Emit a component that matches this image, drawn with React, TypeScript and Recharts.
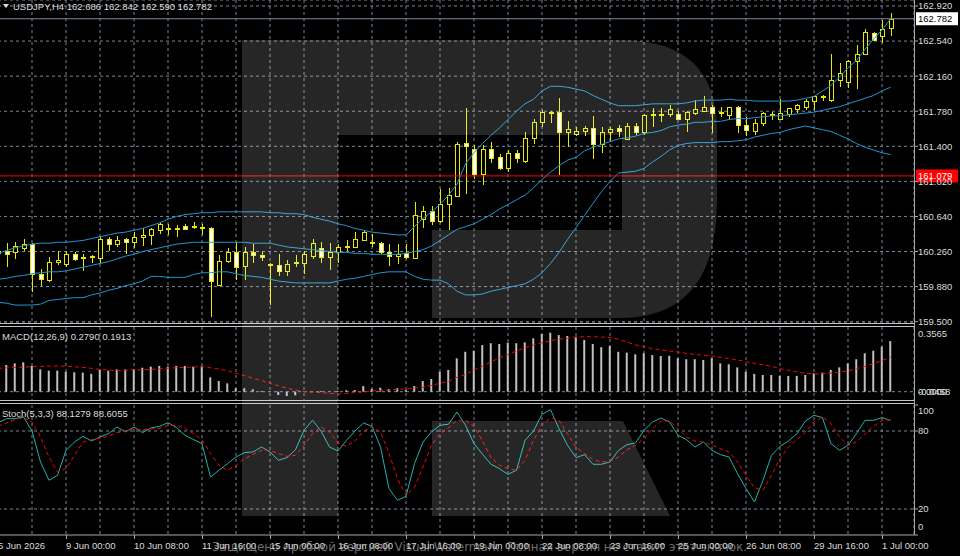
import React from 'react';
import { ComposedChart, Bar, Line, XAxis, YAxis, CartesianGrid, ReferenceLine } from 'recharts';

// USDJPY H4, first bar = 5 Jun 16:00 (bar index -8), bar 0 = 9 Jun 00:00
const FIRST_BAR = -8;

const OPEN = [
  160.24, 160.27, 160.26, 160.30, 160.34, 160.02, 159.95, 160.15, 160.12, 160.23,
  160.19, 160.20, 160.19, 160.40, 160.34, 160.40, 160.36, 160.42, 160.44, 160.49,
  160.51, 160.51, 160.54, 160.53, 160.53, 160.52, 159.90, 160.16, 160.25, 160.10,
  160.25, 160.22, 160.12, 160.11, 160.05, 160.14, 160.14, 160.21, 160.30, 160.20,
  160.25, 160.31, 160.31, 160.39, 160.36, 160.35, 160.26, 160.21, 160.24, 160.19,
  160.61, 160.70, 160.59, 160.77, 160.86, 161.44, 161.37, 161.10, 161.37, 161.28,
  161.16, 161.33, 161.24, 161.49, 161.66, 161.77, 161.77, 161.55, 161.53, 161.57,
  161.60, 161.43, 161.55, 161.60, 161.48, 161.62, 161.55, 161.74, 161.75, 161.75,
  161.75, 161.70, 161.76, 161.78, 161.83, 161.77, 161.74, 161.83, 161.63, 161.57,
  161.65, 161.75, 161.70, 161.75, 161.80, 161.83, 161.89, 161.94, 161.90, 162.12,
  162.10, 162.32, 162.40, 162.63, 162.60, 162.686,
];
const HIGH = [
  160.30, 160.35, 160.36, 160.40, 160.35, 160.07, 160.20, 160.27, 160.27, 160.26,
  160.23, 160.22, 160.43, 160.42, 160.43, 160.41, 160.47, 160.51, 160.52, 160.58,
  160.56, 160.55, 160.56, 160.58, 160.56, 160.53, 160.22, 160.30, 160.36, 160.31,
  160.34, 160.25, 160.14, 160.235, 160.17, 160.22, 160.27, 160.40, 160.36, 160.35,
  160.34, 160.38, 160.47, 160.48, 160.45, 160.36, 160.34, 160.34, 160.34, 160.80,
  160.75, 160.75, 160.94, 160.95, 161.45, 161.82, 161.41, 161.41, 161.45, 161.32,
  161.36, 161.36, 161.56, 161.70, 161.79, 161.78, 161.92, 161.67, 161.61, 161.62,
  161.73, 161.61, 161.61, 161.63, 161.65, 161.65, 161.75, 161.81, 161.82, 161.85,
  161.78, 161.78, 161.90, 161.95, 161.85, 161.83, 161.83, 161.84, 161.72, 161.70,
  161.77, 161.77, 161.91, 161.82, 161.86, 161.91, 161.95, 161.96, 162.40, 162.30,
  162.33, 162.50, 162.67, 162.64, 162.77, 162.842,
];
const LOW = [
  160.20, 160.09, 160.18, 160.27, 159.82, 159.89, 159.93, 160.11, 160.09, 160.16,
  160.05, 160.14, 160.13, 160.27, 160.31, 160.23, 160.30, 160.32, 160.33, 160.45,
  160.44, 160.42, 160.49, 160.50, 160.44, 159.55, 159.89, 160.14, 159.95, 159.95,
  160.14, 160.16, 159.68, 160.00, 159.99, 160.09, 160.02, 160.18, 160.14, 160.06,
  160.14, 160.27, 160.30, 160.38, 160.31, 160.235, 160.10, 160.13, 160.18, 160.18,
  160.51, 160.55, 160.57, 160.49, 160.85, 160.88, 161.05, 160.98, 161.22, 161.14,
  161.12, 161.22, 161.22, 161.43, 161.61, 161.65, 161.09, 161.39, 161.51, 161.51,
  161.26, 161.33, 161.45, 161.50, 161.47, 161.52, 161.52, 161.61, 161.66, 161.72,
  161.68, 161.55, 161.74, 161.77, 161.54, 161.72, 161.69, 161.54, 161.51, 161.52,
  161.62, 161.69, 161.69, 161.72, 161.76, 161.79, 161.79, 161.89, 161.88, 162.04,
  162.03, 162.02, 162.39, 162.54, 162.515, 162.590,
];
const CLOSE = [
  160.27, 160.23, 160.32, 160.34, 160.02, 159.96, 160.15, 160.17, 160.23, 160.18,
  160.20, 160.21, 160.40, 160.34, 160.39, 160.36, 160.42, 160.44, 160.50, 160.56,
  160.51, 160.50, 160.50, 160.535, 160.52, 159.94, 160.16, 160.25, 160.09, 160.25,
  160.22, 160.20, 160.11, 160.05, 160.13, 160.15, 160.23, 160.35, 160.20, 160.26,
  160.31, 160.32, 160.40, 160.47, 160.35, 160.25, 160.21, 160.23, 160.20, 160.66,
  160.70, 160.59, 160.77, 160.87, 161.43, 161.40, 161.10, 161.37, 161.27, 161.16,
  161.33, 161.27, 161.49, 161.66, 161.77, 161.76, 161.55, 161.59, 161.57, 161.60,
  161.43, 161.56, 161.59, 161.57, 161.62, 161.56, 161.74, 161.75, 161.74, 161.80,
  161.70, 161.77, 161.80, 161.83, 161.76, 161.76, 161.83, 161.63, 161.58, 161.65,
  161.76, 161.74, 161.76, 161.81, 161.85, 161.89, 161.94, 161.93, 162.12, 162.19,
  162.32, 162.40, 162.64, 162.55, 162.67, 162.782,
];

// Bollinger bands
const BB_UPPER = [
  160.24, 160.27, 160.30, 160.32, 160.34, 160.35, 160.35, 160.36, 160.36, 160.37,
  160.38, 160.40, 160.42, 160.44, 160.46, 160.47, 160.49, 160.51, 160.54, 160.57,
  160.61, 160.64, 160.66, 160.67, 160.68, 160.68, 160.69, 160.69, 160.69, 160.69,
  160.69, 160.69, 160.68, 160.68, 160.67, 160.67, 160.66, 160.63, 160.61, 160.59,
  160.56, 160.54, 160.51, 160.49, 160.47, 160.46, 160.45, 160.44, 160.44, 160.53,
  160.62, 160.69, 160.77, 160.87, 160.99, 161.21, 161.33, 161.43, 161.52, 161.60,
  161.69, 161.78, 161.86, 161.91, 162.00, 162.05, 162.05, 162.04, 162.02, 162.00,
  161.95, 161.91, 161.87, 161.84, 161.84, 161.84, 161.85, 161.86, 161.86, 161.86,
  161.86, 161.87, 161.89, 161.90, 161.90, 161.90, 161.91, 161.90, 161.90, 161.89,
  161.89, 161.89, 161.89, 161.89, 161.90, 161.92, 161.94, 162.00, 162.06, 162.15,
  162.25, 162.33, 162.45, 162.56, 162.66, 162.78,
];
const BB_MIDDLE = [
  159.96, 159.97, 159.99, 160.00, 160.02, 160.03, 160.04, 160.04, 160.05, 160.07,
  160.09, 160.11, 160.13, 160.15, 160.18, 160.21, 160.23, 160.26, 160.28, 160.30,
  160.32, 160.34, 160.35, 160.36, 160.36, 160.36, 160.36, 160.36, 160.36, 160.36,
  160.35, 160.35, 160.35, 160.33, 160.31, 160.30, 160.29, 160.28, 160.27, 160.26,
  160.25, 160.25, 160.24, 160.24, 160.23, 160.23, 160.23, 160.23, 160.24, 160.26,
  160.28, 160.32, 160.38, 160.44, 160.50, 160.53, 160.56, 160.61, 160.66, 160.72,
  160.77, 160.82, 160.87, 160.95, 161.04, 161.12, 161.19, 161.25, 161.28, 161.35,
  161.39, 161.42, 161.45, 161.48, 161.49, 161.51, 161.54, 161.55, 161.57, 161.61,
  161.63, 161.64, 161.66, 161.66, 161.67, 161.67, 161.69, 161.70, 161.70, 161.71,
  161.72, 161.73, 161.73, 161.74, 161.75, 161.76, 161.77, 161.79, 161.81, 161.83,
  161.86, 161.89, 161.92, 161.95, 162.00, 162.04,
];
const BB_LOWER = [
  159.71, 159.70, 159.68, 159.68, 159.68, 159.69, 159.73, 159.74, 159.75, 159.76,
  159.76, 159.79, 159.81, 159.84, 159.86, 159.89, 159.91, 159.94, 159.99, 159.99,
  159.98, 159.98, 159.98, 160.01, 160.03, 160.03, 160.04, 160.04, 160.02, 160.00,
  159.99, 159.98, 159.96, 159.94, 159.93, 159.92, 159.92, 159.92, 159.92, 159.92,
  159.94, 159.96, 159.97, 159.99, 160.01, 160.03, 160.04, 160.04, 160.04, 159.99,
  159.96, 159.95, 159.95, 159.91, 159.83, 159.79, 159.79, 159.80, 159.83, 159.85,
  159.87, 159.89, 159.91, 159.96, 160.03, 160.13, 160.25, 160.39, 160.52, 160.65,
  160.78, 160.91, 161.02, 161.11, 161.12, 161.13, 161.16, 161.23, 161.29, 161.36,
  161.41, 161.43, 161.44, 161.44, 161.44, 161.45, 161.45, 161.46, 161.47, 161.50,
  161.52, 161.54, 161.55, 161.58, 161.60, 161.62, 161.60, 161.58, 161.56, 161.52,
  161.48, 161.43, 161.39, 161.36, 161.33, 161.31,
];

// MACD(12,26,9)
const MACD_MAIN = [
  0.140, 0.147, 0.156, 0.162, 0.142, 0.123, 0.116, 0.116, 0.110, 0.107,
  0.105, 0.098, 0.120, 0.116, 0.123, 0.123, 0.125, 0.132, 0.138, 0.142,
  0.138, 0.142, 0.142, 0.138, 0.142, 0.079, 0.059, 0.046, 0.019, 0.019,
  0.013, 0.004, 0.001, -0.018, -0.024, -0.020, -0.001, 0.001, 0.004, 0.001,
  0.004, 0.008, 0.009, 0.031, 0.015, 0.022, 0.015, 0.019, 0.009, 0.031,
  0.059, 0.070, 0.110, 0.120, 0.184, 0.220, 0.226, 0.257, 0.267, 0.263,
  0.270, 0.267, 0.272, 0.294, 0.318, 0.325, 0.312, 0.307, 0.303, 0.285,
  0.263, 0.245, 0.252, 0.220, 0.215, 0.206, 0.212, 0.202, 0.197, 0.198,
  0.184, 0.179, 0.179, 0.175, 0.184, 0.156, 0.151, 0.134, 0.110, 0.098,
  0.092, 0.092, 0.087, 0.087, 0.087, 0.092, 0.101, 0.105, 0.120, 0.134,
  0.156, 0.179, 0.212, 0.226, 0.248, 0.2790,
];
const MACD_SIGNAL = [
  0.129, 0.131, 0.134, 0.135, 0.138, 0.139, 0.141, 0.142, 0.140, 0.137,
  0.134, 0.129, 0.123, 0.120, 0.116, 0.118, 0.120, 0.121, 0.123, 0.126,
  0.129, 0.132, 0.134, 0.136, 0.138, 0.132, 0.125, 0.116, 0.102, 0.088,
  0.074, 0.061, 0.046, 0.033, 0.019, 0.009, 0.000, -0.003, -0.005, -0.009,
  -0.013, -0.009, -0.005, -0.002, 0.004, 0.007, 0.009, 0.012, 0.015, 0.020,
  0.024, 0.035, 0.046, 0.057, 0.079, 0.095, 0.120, 0.141, 0.164, 0.186,
  0.206, 0.224, 0.242, 0.258, 0.270, 0.281, 0.289, 0.294, 0.301, 0.303,
  0.303, 0.301, 0.298, 0.289, 0.274, 0.258, 0.248, 0.237, 0.230, 0.224,
  0.219, 0.211, 0.206, 0.200, 0.197, 0.190, 0.182, 0.175, 0.165, 0.156,
  0.147, 0.140, 0.127, 0.118, 0.109, 0.101, 0.098, 0.099, 0.103, 0.107,
  0.114, 0.127, 0.140, 0.155, 0.171, 0.1913,
];

// Stoch(5,3,3)
const STOCH_MAIN = [
  86.2, 89.5, 89.5, 90.8, 80.0, 56.2, 42.1, 45.9, 65.1, 71.5,
  75.9, 72.3, 75.4, 78.0, 83.1, 79.3, 83.1, 78.7, 82.3, 83.6,
  86.4, 82.6, 76.7, 73.4, 70.3, 44.6, 49.8, 54.9, 60.0, 63.4,
  63.9, 67.7, 63.9, 57.5, 59.5, 65.6, 80.5, 88.2, 80.0, 67.7,
  64.6, 72.8, 80.0, 86.2, 83.6, 67.7, 35.7, 26.7, 29.8, 54.9,
  71.5, 79.3, 84.4, 85.2, 94.6, 84.4, 70.3, 62.1, 54.4, 51.0,
  46.7, 49.8, 72.8, 80.0, 92.8, 96.4, 81.8, 69.0, 59.5, 61.8,
  54.4, 54.4, 56.2, 65.1, 69.5, 70.8, 80.5, 86.9, 90.0, 86.9,
  76.7, 73.4, 67.7, 71.5, 65.1, 61.8, 60.0, 47.2, 35.7, 25.4,
  42.1, 61.3, 68.2, 72.3, 78.0, 87.7, 92.1, 90.3, 70.3, 65.1,
  69.0, 78.0, 88.2, 88.2, 90.3, 88.1279,
];
const STOCH_SIGNAL = [
  83.6, 86.2, 88.8, 90.3, 86.9, 75.4, 60.0, 48.5, 51.0, 61.3,
  71.5, 73.4, 74.6, 75.9, 78.7, 80.0, 81.8, 81.0, 81.6, 82.1,
  84.1, 84.4, 82.1, 78.0, 73.4, 62.6, 53.6, 49.8, 53.6, 58.7,
  62.1, 65.1, 65.1, 62.6, 60.5, 61.3, 69.0, 78.0, 83.1, 79.3,
  70.8, 68.2, 72.3, 80.0, 83.1, 79.3, 62.6, 43.4, 30.5, 36.9,
  52.3, 69.0, 78.0, 82.6, 88.2, 88.2, 83.6, 72.3, 59.5, 53.6,
  51.0, 49.8, 57.5, 72.8, 84.4, 90.3, 88.2, 78.0, 67.7, 62.6,
  58.0, 56.2, 56.7, 60.0, 65.6, 69.0, 74.1, 81.8, 87.7, 87.7,
  81.8, 75.4, 72.3, 71.5, 69.0, 66.4, 63.9, 56.2, 45.9, 36.4,
  34.4, 45.9, 58.7, 67.7, 73.4, 79.3, 86.9, 90.8, 85.7, 75.4,
  69.0, 71.5, 78.0, 83.6, 88.2, 88.6055,
];

const TIME_TICK_BARS = [-8, 0, 8, 16, 24, 32, 40, 48, 56, 64, 72, 80, 88, 96];
const TIME_TICK_LABELS = [
  '5 Jun 2026', '9 Jun 00:00', '10 Jun 08:00', '11 Jun 16:00', '15 Jun 00:00',
  '16 Jun 08:00', '17 Jun 16:00', '19 Jun 00:00', '22 Jun 08:00', '23 Jun 16:00',
  '25 Jun 00:00', '26 Jun 08:00', '29 Jun 16:00', '1 Jul 00:00',
];
const PRICE_TICKS = [159.5, 159.88, 160.26, 160.64, 161.02, 161.4, 161.78, 162.16, 162.54, 162.92];
const MACD_MAX = 0.3565;
const MACD_MIN = -0.0458;
const STOCH_TICKS = [0, 20, 80, 100];
const ALERT_LEVEL = 161.079;

// layout
const BAR_PX = 8.5;
const CHART_W = 962; // svg starts 2px left of the page
const AXIS_W = 46;
const PLOT_W = CHART_W - AXIS_W;
const X_DOMAIN = [FIRST_BAR, FIRST_BAR + PLOT_W / BAR_PX];
const GRID_TICKS = Array.from({ length: 27 }, (_, i) => FIRST_BAR + i * 4);
const PRICE_DOMAIN = [159.4855, 162.985];

const FONT = '"Liberation Sans", Arial, sans-serif';
const TEXT = '#dcdcdc';
const GRID = '#778899';
const AXIS = '#a8a8a8';
const CANDLE = '#e8e800';
const BANDS = '#1e96d2';
const RED = '#ff0000';

const bars = OPEN.map((open, i) => ({
  bar: FIRST_BAR + i,
  open,
  high: HIGH[i],
  low: LOW[i],
  close: CLOSE[i],
  upper: BB_UPPER[i],
  middle: BB_MIDDLE[i],
  lower: BB_LOWER[i],
  macd: MACD_MAIN[i],
  signal: MACD_SIGNAL[i],
  stochK: STOCH_MAIN[i],
  stochD: STOCH_SIGNAL[i],
}));
const last = bars[bars.length - 1];

const Candle = (props: any) => {
  const { x, y, width, height, payload } = props;
  if (x == null || !payload) return null;
  const { open, high, low, close } = payload;
  const span = high - low || 1e-6;
  const toY = (p: number) => y + ((high - p) / span) * height;
  const cx = Math.round(x + width / 2) + 0.5;
  const top = Math.round(toY(Math.max(open, close))) + 0.5;
  let bottom = Math.round(toY(Math.min(open, close))) + 0.5;
  if (bottom - top < 1) bottom = top + 1;
  return (
    <g>
      <line x1={cx} x2={cx} y1={Math.round(y)} y2={Math.round(y + height)} stroke={CANDLE} />
      <rect x={cx - 2} y={top} width={4} height={bottom - top} fill={close >= open ? '#000' : '#fff'} stroke={CANDLE} />
    </g>
  );
};

const PriceTag = (props: any) => {
  const { viewBox, text, bg, fg } = props;
  if (!viewBox) return null;
  const left = viewBox.x + viewBox.width + 2;
  return (
    <g>
      <rect x={left} y={viewBox.y - 6.5} width={42} height={13} fill={bg} />
      <text x={left + 2} y={viewBox.y} dy="0.35em" fill={fg} fontSize={9.5} fontFamily={FONT}>{text}</text>
    </g>
  );
};

const MacdTick = ({ x, y, payload }: any) => {
  const v = payload.value;
  const dy = v === MACD_MAX ? 7 : v === MACD_MIN ? -8 : 0;
  return <text x={x} y={y + dy} dy="0.35em" fill={TEXT} fontSize={9.5} fontFamily={FONT}>{v.toFixed(4)}</text>;
};

const StochTick = ({ x, y, payload }: any) => {
  const v = payload.value;
  const dy = v === 100 ? 5.5 : v === 0 ? -8 : 0;
  return <text x={x} y={y + dy} dy="0.35em" fill={TEXT} fontSize={9.5} fontFamily={FONT}>{v}</text>;
};

const TimeTick = ({ x, y, payload }: any) => {
  const i = TIME_TICK_BARS.indexOf(payload.value);
  if (i < 0) return <g />;
  return (
    <g>
      <line x1={x + 0.5} x2={x + 0.5} y1={y} y2={y + 4} stroke={AXIS} />
      <text x={x} y={y + 10} dominantBaseline="central" fill={TEXT} fontSize={9.5} fontFamily={FONT}>{TIME_TICK_LABELS[i]}</text>
    </g>
  );
};

const xAxisHidden = <XAxis type="number" dataKey="bar" domain={X_DOMAIN} ticks={GRID_TICKS} allowDataOverflow hide />;

export default function App() {
  return (
    <div style={{ position: 'fixed', left: 0, top: 0, width: 960, height: 556, background: '#000', overflow: 'hidden', fontFamily: FONT }}>
      <style>{'.recharts-surface { overflow: visible; }'}</style>
      {/* price window */}
      <div style={{ position: 'absolute', left: -2, top: 0 }}>
        <ComposedChart width={CHART_W} height={323} data={bars} margin={{ top: 0, right: 0, bottom: 0, left: 0 }}>
          <CartesianGrid stroke={GRID} strokeDasharray="3 3" />
          {xAxisHidden}
          <YAxis orientation="right" width={AXIS_W} domain={PRICE_DOMAIN} ticks={PRICE_TICKS} interval={0}
            allowDataOverflow axisLine={false} tickLine={{ stroke: AXIS }} tickSize={4} tickMargin={0}
            tickFormatter={(v: number) => v.toFixed(3)} tick={{ fill: TEXT, fontSize: 9.5, fontFamily: FONT }} />
          <Bar dataKey={(d: any) => [d.low, d.high]} barSize={5} shape={<Candle />} isAnimationActive={false} />
          <Line dataKey="upper" stroke={BANDS} strokeWidth={1} dot={false} activeDot={false} isAnimationActive={false} />
          <Line dataKey="middle" stroke={BANDS} strokeWidth={1} dot={false} activeDot={false} isAnimationActive={false} />
          <Line dataKey="lower" stroke={BANDS} strokeWidth={1} dot={false} activeDot={false} isAnimationActive={false} />
          <ReferenceLine y={last.close} stroke={GRID} label={<PriceTag text={last.close.toFixed(3)} bg="#ffffff" fg="#000000" />} />
          <ReferenceLine y={ALERT_LEVEL} stroke={RED} label={<PriceTag text={ALERT_LEVEL.toFixed(3)} bg={RED} fg="#ffffff" />} />
        </ComposedChart>
      </div>

      {/* MACD window */}
      <div style={{ position: 'absolute', left: -2, top: 327 }}>
        <ComposedChart width={CHART_W} height={73} data={bars} margin={{ top: 0, right: 0, bottom: 0, left: 0 }}>
          <CartesianGrid stroke={GRID} strokeDasharray="3 3" horizontalValues={[0]} />
          {xAxisHidden}
          <YAxis orientation="right" width={AXIS_W} domain={[MACD_MIN, MACD_MAX]} ticks={[MACD_MAX, 0, MACD_MIN]}
            interval={0} allowDataOverflow axisLine={false} tickLine={false} tickSize={4} tickMargin={0} tick={<MacdTick />} />
          <Bar dataKey="macd" barSize={2} fill="#c0c0c0" isAnimationActive={false} />
          <Line dataKey="signal" stroke={RED} strokeWidth={1} strokeDasharray="4 3" dot={false} activeDot={false} isAnimationActive={false} />
        </ComposedChart>
      </div>

      {/* Stochastic window */}
      <div style={{ position: 'absolute', left: -2, top: 400 }}>
        <ComposedChart width={CHART_W} height={156} data={bars} margin={{ top: 5, right: 0, bottom: 0, left: 0 }}>
          <CartesianGrid stroke={GRID} strokeDasharray="3 3" horizontalValues={[20, 80]} />
          <XAxis type="number" dataKey="bar" domain={X_DOMAIN} ticks={GRID_TICKS} allowDataOverflow interval={0}
            height={21} axisLine={{ stroke: AXIS }} tickLine={false} tickSize={0} tickMargin={0} tick={<TimeTick />} />
          <YAxis orientation="right" width={AXIS_W} domain={[0, 100]} ticks={STOCH_TICKS} interval={0}
            axisLine={false} tickLine={{ stroke: AXIS }} tickSize={4} tickMargin={0} tick={<StochTick />} />
          <Line dataKey="stochK" stroke="#20b2aa" strokeWidth={1} dot={false} activeDot={false} isAnimationActive={false} />
          <Line dataKey="stochD" stroke={RED} strokeWidth={1} strokeDasharray="4 3" dot={false} activeDot={false} isAnimationActive={false} />
        </ComposedChart>
      </div>

      {/* window chrome, titles and the watermark */}
      <svg width={960} height={556} style={{ position: 'absolute', left: 0, top: 0, pointerEvents: 'none' }}>
        <g stroke="#c4c4c4" strokeWidth={1}>
          <line x1={0} x2={914} y1={323.5} y2={323.5} />
          <line x1={0} x2={914} y1={326.5} y2={326.5} />
          <line x1={0} x2={914} y1={400.5} y2={400.5} />
          <line x1={0} x2={914} y1={403.5} y2={403.5} />
        </g>
        <line x1={914.5} x2={914.5} y1={0} y2={535} stroke={AXIS} />
        <path d="M3,4 L9,4 L6,8 Z" fill={TEXT} />
        <text x={13} y={6} dominantBaseline="central" fill={TEXT} fontSize={9.5} fontFamily={FONT}>
          {`USDJPY,H4  ${last.open.toFixed(3)} ${last.high.toFixed(3)} ${last.low.toFixed(3)} ${last.close.toFixed(3)}`}
        </text>
        <text x={2} y={336} dominantBaseline="central" fill={TEXT} fontSize={9.5} fontFamily={FONT}>
          {`MACD(12,26,9) ${last.macd.toFixed(4)} ${last.signal.toFixed(4)}`}
        </text>
        <text x={2} y={413} dominantBaseline="central" fill={TEXT} fontSize={9.5} fontFamily={FONT}>
          {`Stoch(5,3,3) ${last.stochK.toFixed(4)} ${last.stochD.toFixed(4)}`}
        </text>
        <g fill="#ffffff" fillOpacity={0.15}>
          <path d="M242,40 H338 V516 H242 Z" />
          <path d="M338,40 H620 Q717,40 717,130 V200 Q717,318 620,318 H432 V230 H622 V135 H338 Z" />
          <path d="M432,421 H623 L670,516 H432 Z" />
        </g>
        <text x={212} y={546} dominantBaseline="central" fill="#bdbdbd" fillOpacity={0.6} fontSize={12.5}
          fontFamily='"DejaVu Sans", sans-serif' textLength={535} lengthAdjust="spacingAndGlyphs">
          Защищено пробной версией Visual Watermark. Полная версия не ставит этот значок.
        </text>
      </svg>
    </div>
  );
}
